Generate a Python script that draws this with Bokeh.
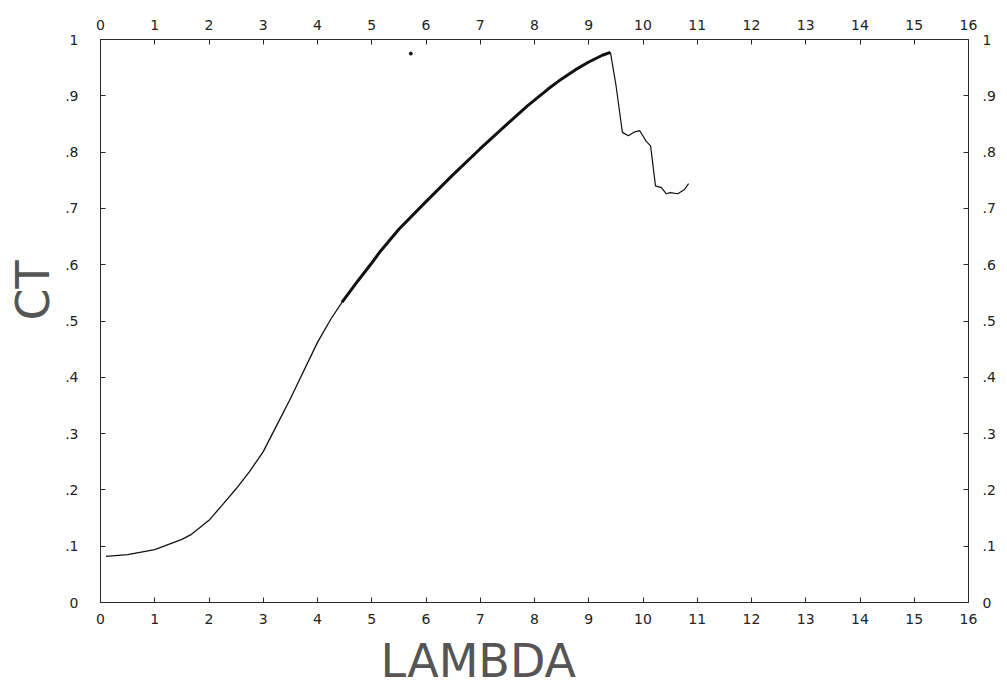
from bokeh.plotting import figure
from bokeh.models import LinearAxis, FixedTicker, CustomJSTickFormatter, Title, Range1d
from bokeh.embed import file_html
from bokeh.resources import INLINE

# ---- data ----
lam_low = [0.1, 0.5, 1.0, 1.5, 1.66, 2.0, 2.27, 2.5, 2.75, 3.0, 3.25, 3.5, 3.63, 4.0, 4.25, 4.45]
ct_low = [0.082, 0.085, 0.094, 0.112, 0.12, 0.146, 0.176, 0.202, 0.233, 0.268, 0.315, 0.362, 0.388, 0.462, 0.504, 0.533]

lam_mid = [4.45, 4.75, 5.0, 5.16, 5.5, 6.0, 6.5, 7.0, 7.5, 7.87, 8.25, 8.5, 8.75, 9.0, 9.25, 9.4]
ct_mid = [0.533, 0.572, 0.603, 0.624, 0.663, 0.712, 0.76, 0.806, 0.85, 0.882, 0.912, 0.93, 0.946, 0.96, 0.972, 0.977]

lam_high = [9.4, 9.5, 9.62, 9.73, 9.85, 9.94, 10.06, 10.14, 10.23, 10.34, 10.43, 10.5, 10.64, 10.76, 10.84]
ct_high = [0.977, 0.92, 0.835, 0.829, 0.836, 0.838, 0.819, 0.811, 0.74, 0.737, 0.726, 0.728, 0.726, 0.733, 0.744]

speck_x = [5.72]
speck_y = [0.975]

x_ticks = [0, 1, 2, 3, 4, 5, 6, 7, 8, 9, 10, 11, 12, 13, 14, 15, 16]
y_ticks = [0.0, 0.1, 0.2, 0.3, 0.4, 0.5, 0.6, 0.7, 0.8, 0.9, 1.0]
y_labels = ["0", ".1", ".2", ".3", ".4", ".5", ".6", ".7", ".8", ".9", "1"]

x_title = "LAMBDA"
y_title = "CT"

AX = "#2a2a2a"
FONT = "DejaVu Sans"
TITLE_COLOR = "#555555"

p = figure(width=1000, height=694, output_backend="svg", toolbar_location=None,
           x_range=Range1d(0, 16), y_range=Range1d(0, 1),
           x_axis_location=None, y_axis_location=None)
p.min_border_left = 100
p.min_border_right = 32
p.min_border_top = 39
p.min_border_bottom = 92
p.outline_line_color = None
p.xgrid.visible = False
p.ygrid.visible = False
p.background_fill_color = "white"
p.border_fill_color = "white"

yfmt = CustomJSTickFormatter(args=dict(tvals=y_ticks, tlabels=y_labels), code="""
let best = 0, d = 1e9;
for (let i = 0; i < tvals.length; i++) { const dd = Math.abs(tvals[i] - tick); if (dd < d) { d = dd; best = i; } }
return tlabels[best];
""")

def style(ax, standoff):
    ax.axis_line_color = AX
    ax.axis_line_width = 1
    ax.major_tick_line_color = AX
    ax.major_tick_in = 5
    ax.major_tick_out = 0
    ax.minor_tick_line_color = None
    ax.major_label_text_font = FONT
    ax.major_label_text_font_size = "14px"
    ax.major_label_text_color = "#222222"
    ax.major_label_standoff = standoff

for loc, standoff in (("below", 11), ("above", 10)):
    ax = LinearAxis(ticker=FixedTicker(ticks=x_ticks))
    style(ax, standoff)
    p.add_layout(ax, loc)

for loc, standoff in (("left", 22), ("right", 14)):
    ax = LinearAxis(ticker=FixedTicker(ticks=y_ticks), formatter=yfmt)
    style(ax, standoff)
    p.add_layout(ax, loc)

p.line(lam_low, ct_low, line_color="#111111", line_width=1.3)
p.line(lam_mid, ct_mid, line_color="#111111", line_width=3)
p.line(lam_high, ct_high, line_color="#111111", line_width=1.2)
p.scatter(speck_x, speck_y, size=3, color="#111111")

p.add_layout(Title(text=x_title, align="left", offset=280, text_font=FONT,
                   text_font_size="46px", text_font_style="normal",
                   text_color=TITLE_COLOR, standoff=10), "below")
p.add_layout(Title(text=y_title, align="left", offset=282, text_font=FONT,
                   text_font_size="46px", text_font_style="normal",
                   text_color=TITLE_COLOR, standoff=5), "left")

open("out.html", "w").write(file_html(p, INLINE))
